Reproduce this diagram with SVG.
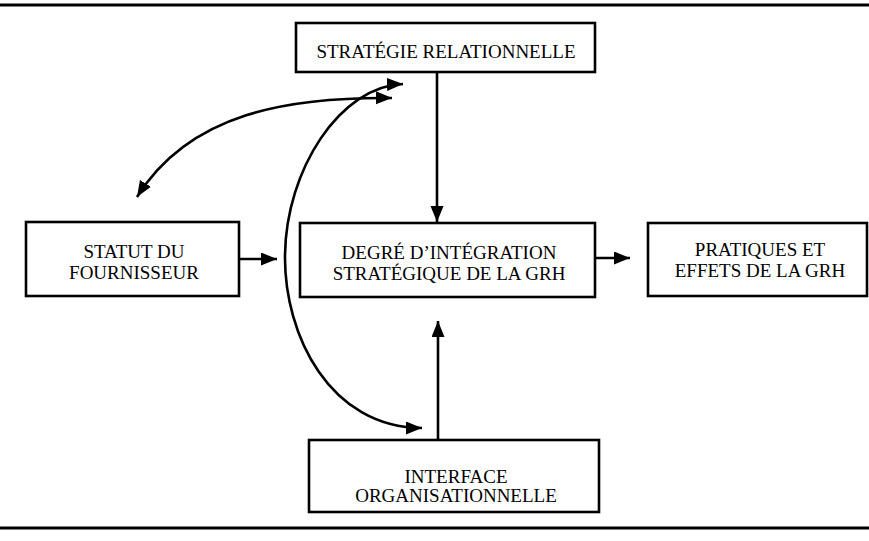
<svg xmlns="http://www.w3.org/2000/svg" width="869" height="541" viewBox="0 0 869 541">
<style>
  .box{fill:#fff;stroke:#000;stroke-width:2.6}
  .lbl{font-family:"Liberation Serif","Times New Roman",serif;font-size:19px;fill:#000;text-anchor:middle}
  .con{fill:none;stroke:#000;stroke-width:2.6}
  .rule{stroke:#000;stroke-width:3}
</style>
<defs>
  <marker id="ah" markerUnits="userSpaceOnUse" markerWidth="17" markerHeight="14" refX="16" refY="6.5" orient="auto-start-reverse">
    <path d="M0,0 L16,6.5 L0,13 z" fill="#000"/>
  </marker>
</defs>
<line class="rule" x1="0" y1="5" x2="869" y2="5"/>
<line class="rule" x1="0" y1="528" x2="869" y2="528"/>
<g id="connectors">
  <path class="con" d="M437,72 L437,222" marker-end="url(#ah)"/>
  <path class="con" d="M438,440 L438,321" marker-end="url(#ah)"/>
  <path class="con" d="M239,259 L277,259" marker-end="url(#ah)"/>
  <path class="con" d="M595,258 L630,258" marker-end="url(#ah)"/>
  <path class="con" d="M403,84 C340,86 286,170 285,255 C284,335 330,428 422,428" marker-start="url(#ah)" marker-end="url(#ah)"/>
  <path class="con" d="M392,98 C290,97 190,112 137,197" marker-start="url(#ah)" marker-end="url(#ah)"/>
</g>
<g id="strategie-relationnelle">
  <rect class="box" x="296" y="23" width="299" height="49"/>
  <text class="lbl" x="446" y="58">STRATÉGIE RELATIONNELLE</text>
</g>
<g id="statut-fournisseur">
  <rect class="box" x="26" y="222" width="213" height="74"/>
  <text class="lbl" x="134" y="258">STATUT DU</text>
  <text class="lbl" x="134" y="279">FOURNISSEUR</text>
</g>
<g id="degre-integration">
  <rect class="box" x="300" y="223" width="295" height="74"/>
  <text class="lbl" x="449" y="259">DEGRÉ D’INTÉGRATION</text>
  <text class="lbl" x="449" y="280">STRATÉGIQUE DE LA GRH</text>
</g>
<g id="pratiques-effets">
  <rect class="box" x="648" y="223" width="219" height="73"/>
  <text class="lbl" x="760" y="256">PRATIQUES ET</text>
  <text class="lbl" x="760" y="277">EFFETS DE LA GRH</text>
</g>
<g id="interface-organisationnelle">
  <rect class="box" x="309" y="440" width="290" height="72"/>
  <text class="lbl" x="456" y="483">INTERFACE</text>
  <text class="lbl" x="456" y="502">ORGANISATIONNELLE</text>
</g>
</svg>
